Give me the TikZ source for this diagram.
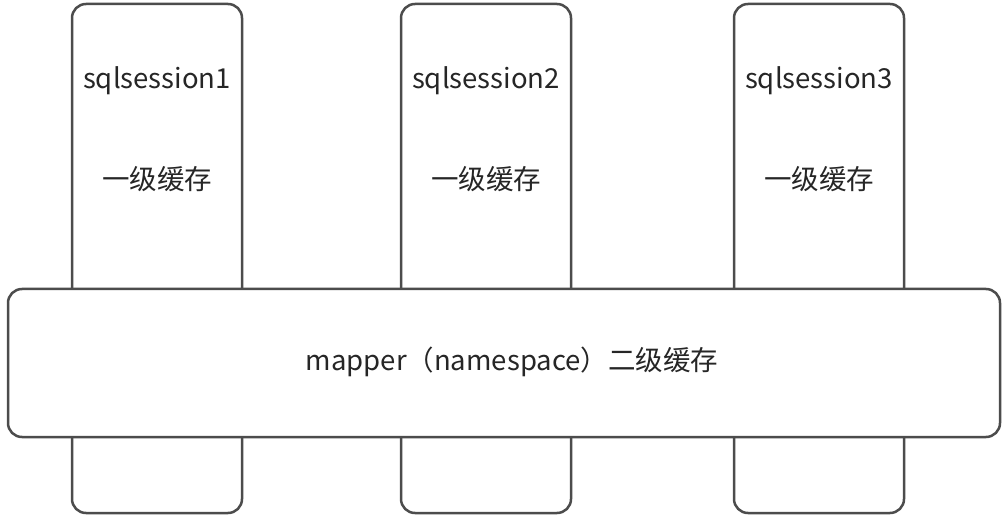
\documentclass[tikz,border=0pt]{standalone}
\usepackage{fontspec}
\setmainfont{Noto Sans CJK SC}
\begin{document}
\begin{tikzpicture}[x=1pt,y=-1pt,
  box/.style={draw=black!70,line width=2.5pt,rounded corners=14pt,fill=white},
  lbl/.style={font=\fontsize{27.5}{32}\selectfont,text=black!85,inner sep=0pt}]
\useasboundingbox (0,0) rectangle (1008,518);
\foreach \n/\x in {1/72,2/401,3/734}{
  \draw[box] (\x,4) rectangle ++(170,509);
  \node[lbl] (s\n) at (\x+85,81) {sqlsession\n};
  \node[lbl] (c\n) at (\x+85,179) {一级缓存};
}
\draw[box] (8,289) rectangle (1000,437);
\node[lbl] (m) at (512,362) {mapper（namespace）二级缓存};
\end{tikzpicture}
\end{document}
